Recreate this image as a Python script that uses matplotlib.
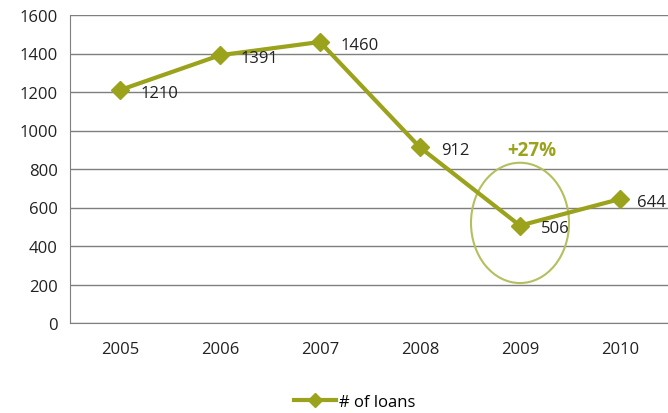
import matplotlib.pyplot as plt
from matplotlib.patches import Ellipse

years = ['2005', '2006', '2007', '2008', '2009', '2010']
loans = [1210, 1391, 1460, 912, 506, 644]
growth_label = '+27%'

olive = '#9ba21b'
plt.rcParams['font.family'] = ['Open Sans', 'DejaVu Sans']

fig = plt.figure(figsize=(6.68, 4.14), dpi=100)
ax = fig.add_axes([70 / 668, 1 - 324 / 414, 600 / 668, 308 / 414])

x = range(len(years))
ax.plot(x, loans, color=olive, linewidth=3, marker='D', markersize=9,
        label='# of loans', zorder=3, clip_on=False)
for i, v in zip(x, loans):
    dx = 15 if i < len(years) - 1 else 12
    ax.annotate(str(v), (i, v), xytext=(dx, -2), textcoords='offset points',
                va='center', ha='left', fontsize=12, color='#222222')

ax.add_patch(Ellipse((4, 520), 0.98, 625, fill=False, edgecolor='#b5bf5e', linewidth=1.5))
ax.text(4.12, 900, growth_label, color=olive, fontsize=13.5, fontweight='bold',
        ha='center', va='center')

ax.set_xlim(-0.5, 5.5)
ax.set_ylim(0, 1600)
ax.set_yticks(range(0, 1601, 200))
ax.set_xticks(list(x))
ax.set_xticklabels(years)
ax.tick_params(length=0, labelsize=12, colors='#222222')
ax.tick_params(axis='x', pad=13)
ax.tick_params(axis='y', pad=9)
ax.grid(axis='y', color='#7f7f7f', linewidth=1)
ax.set_axisbelow(True)
for s in ['top', 'right']:
    ax.spines[s].set_visible(False)
for s in ['left', 'bottom']:
    ax.spines[s].set_color('#7f7f7f')

fig.legend(loc='center', bbox_to_anchor=(355 / 668, 1 - 403 / 414), frameon=False,
           fontsize=12, handlelength=2.5, handletextpad=0.2, markerscale=0.8)

fig.savefig('out.png', dpi=100)
